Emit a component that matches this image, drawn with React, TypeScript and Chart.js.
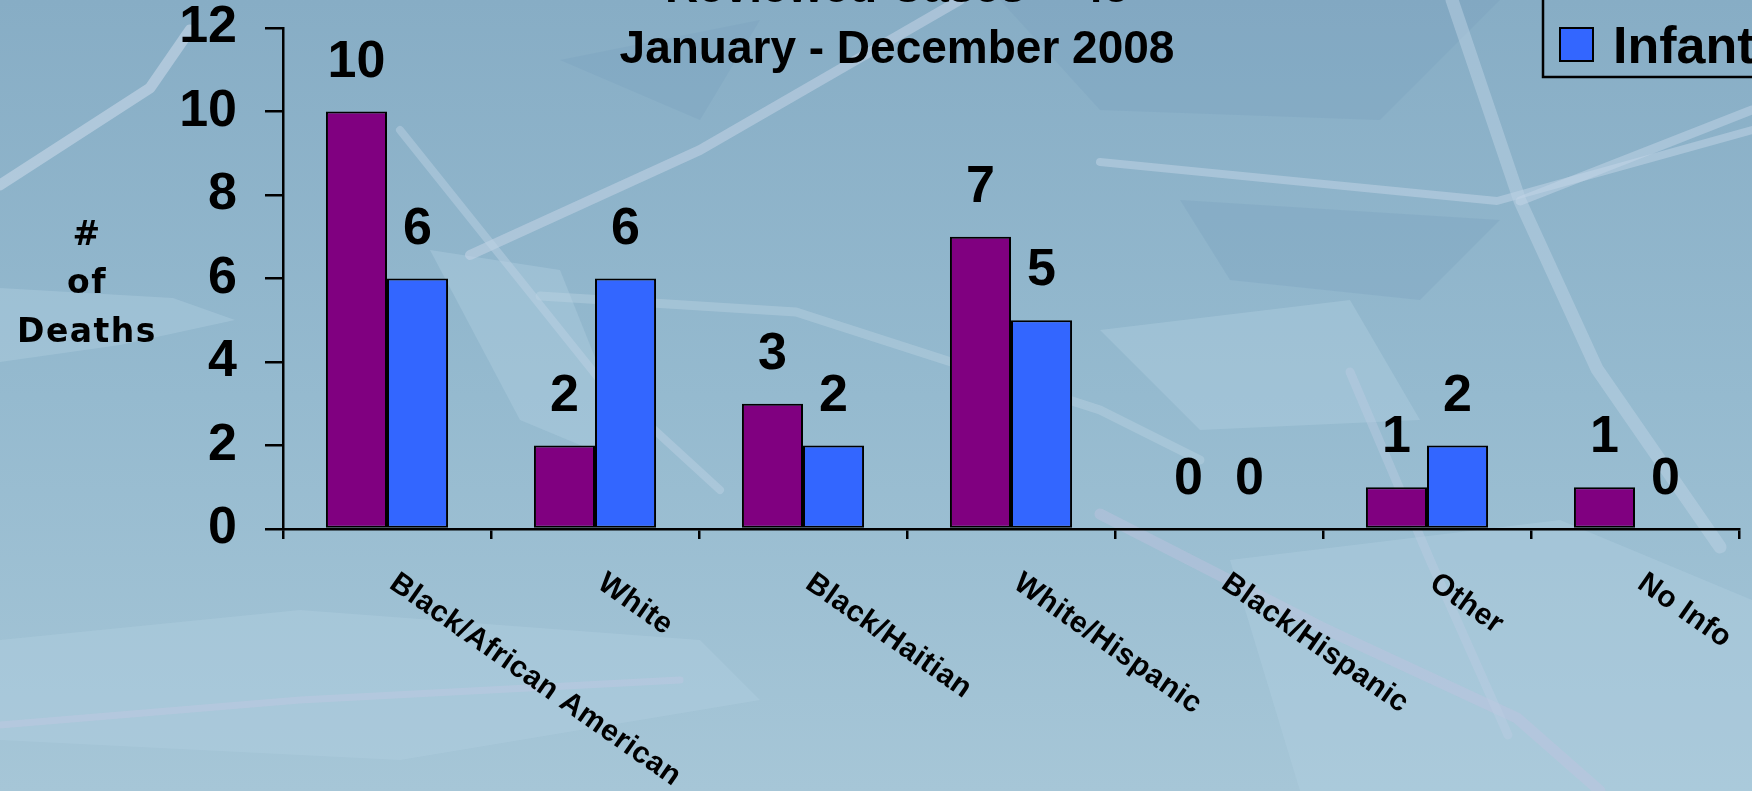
import React, { useEffect, useRef } from "react";
import { Chart, registerables } from "chart.js";

Chart.register(...registerables);

// ---- data ----
const categories = [
  "Black/African American",
  "White",
  "Black/Haitian",
  "White/Hispanic",
  "Black/Hispanic",
  "Other",
  "No Info",
];
const fetalDeaths = [10, 2, 3, 7, 0, 1, 1];
const infantDeaths = [6, 6, 2, 5, 0, 2, 0];
const seriesNames = ["Fetal", "Infant"];
const seriesColors = ["#800080", "#3366FF"];
const titleLines = ["Reviewed Cases = 45", "January - December 2008"];
const yAxisTitleLines = ["#", "of", "Deaths"];
const yMin = 0;
const yMax = 12;
const yStep = 2;

const SANS = "'Liberation Sans', Arial, Helvetica, sans-serif";
const WIDE = "'DejaVu Sans', Verdana, sans-serif";

// Soft blue backdrop with pale streaks
const backdropPlugin = {
  id: "backdrop",
  beforeDraw(chart: any) {
    const { ctx, width, height } = chart;
    ctx.save();
    const g = ctx.createLinearGradient(0, 0, 0, height);
    g.addColorStop(0, "#87adc5");
    g.addColorStop(0.5, "#95bacf");
    g.addColorStop(1, "#a6c6d7");
    ctx.fillStyle = g;
    ctx.fillRect(0, 0, width, height);

    // lighter patches
    const patches: number[][][] = [
      [[0, 288], [173, 298], [235, 320], [120, 345], [0, 362]],
      [[0, 640], [300, 610], [700, 640], [760, 700], [400, 760], [0, 740]],
      [[430, 250], [560, 270], [640, 470], [520, 420]],
      [[1100, 330], [1350, 300], [1420, 420], [1200, 430]],
      [[1230, 560], [1560, 520], [1752, 600], [1752, 791], [1300, 791]],
    ];
    ctx.fillStyle = "rgba(178, 208, 224, 0.4)";
    for (const p of patches) {
      ctx.beginPath();
      p.forEach(([x, y], i) => (i ? ctx.lineTo(x, y) : ctx.moveTo(x, y)));
      ctx.closePath();
      ctx.fill();
    }

    // darker patches
    const dark: number[][][] = [
      [[1000, 0], [1500, 0], [1380, 120], [1100, 110]],
      [[560, 60], [760, 20], [700, 120]],
      [[1180, 200], [1500, 220], [1420, 300], [1230, 280]],
    ];
    ctx.fillStyle = "rgba(120, 160, 188, 0.3)";
    for (const p of dark) {
      ctx.beginPath();
      p.forEach(([x, y], i) => (i ? ctx.lineTo(x, y) : ctx.moveTo(x, y)));
      ctx.closePath();
      ctx.fill();
    }

    const streaks: [number[][], number, string][] = [
      [[[0, 185], [150, 88], [190, 30]], 11, "rgba(200, 215, 232, 0.6)"],
      [[[470, 255], [700, 150], [960, 0]], 10, "rgba(196, 212, 230, 0.55)"],
      [[[400, 130], [480, 230], [600, 380], [720, 490]], 8, "rgba(190, 210, 228, 0.45)"],
      [[[540, 296], [796, 312], [1100, 410], [1200, 460]], 9, "rgba(190, 212, 228, 0.4)"],
      [[[1100, 162], [1497, 201], [1752, 130]], 8, "rgba(196, 214, 232, 0.5)"],
      [[[1452, 0], [1520, 201], [1597, 369], [1720, 547]], 13, "rgba(188, 210, 228, 0.5)"],
      [[[1100, 514], [1321, 627], [1517, 718], [1600, 791]], 11, "rgba(196, 196, 224, 0.4)"],
      [[[1350, 372], [1430, 560], [1508, 735]], 9, "rgba(190, 206, 228, 0.4)"],
      [[[0, 725], [300, 700], [680, 680]], 7, "rgba(200, 200, 228, 0.35)"],
      [[[1520, 201], [1752, 110]], 9, "rgba(196, 214, 232, 0.5)"],
    ];
    ctx.lineJoin = "round";
    ctx.lineCap = "round";
    for (const [pts, w, c] of streaks) {
      ctx.strokeStyle = c;
      ctx.lineWidth = w;
      ctx.beginPath();
      pts.forEach(([x, y], i) => (i ? ctx.lineTo(x, y) : ctx.moveTo(x, y)));
      ctx.stroke();
    }
    ctx.restore();
  },
};

// Title block, y-axis title, rotated category labels, value labels, legend
const annotatePlugin = {
  id: "annotate",
  afterDraw(chart: any) {
    const { ctx, chartArea } = chart;
    const xScale = chart.scales.x;
    ctx.save();
    ctx.fillStyle = "#000";

    // title
    ctx.font = `bold 46px ${SANS}`;
    ctx.textAlign = "center";
    ctx.textBaseline = "alphabetic";
    const titleX = 897;
    ctx.fillText(titleLines[0], titleX, 2);
    ctx.fillText(titleLines[1], titleX, 63);

    // y-axis title
    ctx.font = `bold 33px ${WIDE}`;
    (ctx as any).letterSpacing = "1.5px";
    const yBase = [245, 293, 342];
    yAxisTitleLines.forEach((t, i) => ctx.fillText(t, 87, yBase[i]));
    (ctx as any).letterSpacing = "0px";

    // value labels above the bars
    ctx.font = `bold 52px ${SANS}`;
    ctx.textAlign = "center";
    chart.data.datasets.forEach((ds: any, di: number) => {
      const meta = chart.getDatasetMeta(di);
      meta.data.forEach((bar: any, i: number) => {
        ctx.fillText(String(ds.data[i]), bar.x, bar.y - 35);
      });
    });

    // rotated category labels
    const angle = (35 * Math.PI) / 180;
    ctx.font = `bold 30px ${SANS}`;
    (ctx as any).letterSpacing = "0.5px";
    ctx.textAlign = "left";
    categories.forEach((label, i) => {
      const cx = xScale.getPixelForValue(i);
      ctx.save();
      ctx.translate(cx + 1, chartArea.bottom + 58);
      ctx.rotate(angle);
      ctx.fillText(label, 0, 0);
      ctx.restore();
    });
    (ctx as any).letterSpacing = "0px";

    // legend box
    const boxLeft = 1543;
    const boxBottom = 77;
    ctx.strokeStyle = "#000";
    ctx.lineWidth = 2.5;
    ctx.strokeRect(boxLeft, boxBottom - 220, 400, 220);
    ctx.font = `bold 52px ${SANS}`;
    ctx.textAlign = "left";
    const n = chart.data.datasets.length;
    chart.data.datasets.forEach((ds: any, di: number) => {
      const cy = 44 - (n - 1 - di) * 80;
      ctx.fillStyle = ds.backgroundColor;
      ctx.fillRect(1560, cy - 16, 33, 33);
      ctx.lineWidth = 2;
      ctx.strokeRect(1560, cy - 16, 33, 33);
      ctx.fillStyle = "#000";
      ctx.fillText(ds.label, 1613, cy + 19);
    });
    ctx.restore();
  },
};

export default function App() {
  const canvasRef = useRef<HTMLCanvasElement | null>(null);

  useEffect(() => {
    document.body.style.margin = "0";
    const canvas = canvasRef.current;
    if (!canvas) return;
    const chart = new Chart(canvas, {
      type: "bar",
      data: {
        labels: categories,
        datasets: [
          {
            label: seriesNames[0],
            data: fetalDeaths,
            backgroundColor: seriesColors[0],
            borderColor: "#000",
            borderWidth: 2,
            borderSkipped: false,
            categoryPercentage: 0.587,
            barPercentage: 1,
          },
          {
            label: seriesNames[1],
            data: infantDeaths,
            backgroundColor: seriesColors[1],
            borderColor: "#000",
            borderWidth: 2,
            borderSkipped: false,
            categoryPercentage: 0.587,
            barPercentage: 1,
          },
        ],
      },
      options: {
        animation: false,
        responsive: true,
        maintainAspectRatio: false,
        devicePixelRatio: 1,
        layout: { padding: { top: 28, right: 13, left: 0, bottom: 0 } },
        plugins: {
          legend: { display: false },
          title: { display: false },
          tooltip: { enabled: false },
        },
        scales: {
          x: {
            type: "category",
            offset: true,
            grid: {
              display: true,
              offset: true,
              drawOnChartArea: false,
              drawTicks: true,
              tickLength: 10,
              color: "#000",
              lineWidth: 2.5,
            },
            border: { display: true, color: "#000", width: 2.5 },
            ticks: { display: false },
            afterFit(scale: any) {
              scale.height = 262;
              scale.paddingLeft = 0;
              scale.paddingRight = 0;
            },
          },
          y: {
            min: yMin,
            max: yMax,
            grid: {
              drawOnChartArea: false,
              drawTicks: true,
              tickLength: 18,
              color: "#000",
              lineWidth: 2.5,
            },
            border: { display: true, color: "#000", width: 2.5 },
            ticks: {
              stepSize: yStep,
              color: "#000",
              padding: 28,
              font: { family: SANS, size: 52, weight: "bold" },
            },
            afterFit(scale: any) {
              scale.width = 283;
              scale.paddingTop = 0;
              scale.paddingBottom = 0;
            },
          },
        },
      } as any,
      plugins: [backdropPlugin, annotatePlugin],
    });
    return () => chart.destroy();
  }, []);

  return (
    <div style={{ position: "fixed", left: 0, top: 0, width: 1752, height: 791 }}>
      <canvas ref={canvasRef} />
    </div>
  );
}
